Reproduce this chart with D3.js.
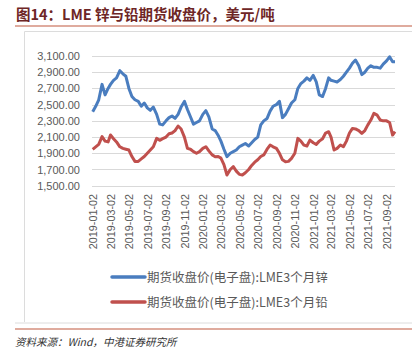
<!DOCTYPE html>
<html><head><meta charset="utf-8">
<script src="https://cdn.jsdelivr.net/npm/d3@7"></script>
<style>body{margin:0;background:#fff}svg{display:block}</style>
</head><body>
<script>
const dates = [
"2019-01-02","2019-01-12","2019-01-22","2019-02-02","2019-02-12","2019-02-22","2019-03-02","2019-03-12","2019-03-22",
"2019-04-02","2019-04-12","2019-04-22","2019-05-02","2019-05-12","2019-05-22","2019-06-02","2019-06-12","2019-06-22",
"2019-07-02","2019-07-12","2019-07-22","2019-08-02","2019-08-12","2019-08-22","2019-09-02","2019-09-12","2019-09-22",
"2019-10-02","2019-10-12","2019-10-22","2019-11-02","2019-11-12","2019-11-22","2019-12-02","2019-12-12","2019-12-22",
"2020-01-02","2020-01-12","2020-01-22","2020-02-02","2020-02-12","2020-02-22","2020-03-02","2020-03-12","2020-03-22",
"2020-04-02","2020-04-12","2020-04-22","2020-05-02","2020-05-12","2020-05-22","2020-06-02","2020-06-12","2020-06-22",
"2020-07-02","2020-07-12","2020-07-22","2020-08-02","2020-08-12","2020-08-22","2020-09-02","2020-09-12","2020-09-22",
"2020-10-02","2020-10-12","2020-10-22","2020-11-02","2020-11-12","2020-11-22","2020-12-02","2020-12-12","2020-12-22",
"2021-01-02","2021-01-12","2021-01-22","2021-02-02","2021-02-12","2021-02-22","2021-03-02","2021-03-12","2021-03-22",
"2021-04-02","2021-04-12","2021-04-22","2021-05-02","2021-05-12","2021-05-22","2021-06-02","2021-06-12","2021-06-22",
"2021-07-02","2021-07-12","2021-07-22","2021-08-02","2021-08-12","2021-08-22","2021-09-02","2021-09-12","2021-09-22","2021-09-30"];
const zinc = [
2413,2480,2560, 2750,2620,2700, 2750,2800,2830,
2919,2880,2850, 2700,2600,2560, 2540,2480,2520,
2460,2430,2470, 2380,2260,2250, 2300,2340,2360,
2330,2380,2470, 2540,2440,2350, 2260,2280,2300,
2380,2426,2350, 2200,2180,2120, 2050,1950,1858,
1900,1920,1940, 1980,2000,2020, 1990,2030,2070,
2100,2250,2300, 2330,2420,2480, 2500,2540,2340,
2380,2450,2520, 2560,2700,2760, 2790,2830,2800,
2860,2780,2620, 2600,2700,2830, 2800,2790,2780,
2810,2850,2900, 2950,3010,3050, 2980,2870,2900,
2950,2980,2960, 2960,2950,3000, 3040,3090,3030,3030];
const lead = [
1949,1980,2010, 2105,2050,2040, 2125,2080,2040,
1980,1960,1950, 1940,1860,1800, 1800,1830,1860,
1900,1940,1980, 2084,2060,2080, 2100,2140,2150,
2180,2236,2200, 2100,1960,1950, 1920,1900,1920,
1960,1981,1930, 1880,1858,1860, 1840,1760,1632,
1700,1735,1680, 1640,1632,1660, 1700,1750,1790,
1820,1860,1880, 1950,2002,1980, 1960,1900,1820,
1796,1800,1837, 1900,2084,2050, 2000,1990,2063,
2030,2010,2050, 2080,2150,2166, 2100,1940,1960,
2002,1980,2050, 2150,2207,2200, 2180,2145,2180,
2250,2310,2392, 2370,2310,2300, 2300,2280,2125,2166];
const yTicks = [1500,1700,1900,2100,2300,2500,2700,2900,3100];
const xTickLabels = ["2019-01-02","2019-03-02","2019-05-02","2019-07-02","2019-09-02","2019-11-02","2020-01-02","2020-03-02","2020-05-02","2020-07-02","2020-09-02","2020-11-02","2021-01-02","2021-03-02","2021-05-02","2021-07-02","2021-09-02"];
const seriesNames = ["期货收盘价(电子盘):LME3个月锌","期货收盘价(电子盘):LME3个月铅"];
const colors = ["#4a7dbf","#c0504d"];
const title = "图14：LME 锌与铅期货收盘价，美元/吨";
const source = "资料来源：Wind，中港证券研究所";

const W=418,H=357;
const svg=d3.select("body").append("svg").attr("width",W).attr("height",H);
const parse=d3.timeParse("%Y-%m-%d");
const dd=dates.map(parse);

// title & frame
svg.append("text").attr("x",16).attr("y",20).attr("font-family","'Noto Sans CJK SC',sans-serif")
  .attr("font-size",14.5).attr("font-weight","bold").attr("fill","#6e2626").text(title);
svg.append("line").attr("x1",15).attr("x2",412).attr("y1",26).attr("y2",26).attr("stroke","#c0583f").attr("stroke-width",1.2);
svg.append("path").attr("d","M24.5,322 V31.5 H412").attr("fill","none").attr("stroke","#dcdcdc").attr("stroke-width",1);
svg.append("line").attr("x1",15).attr("x2",412).attr("y1",323).attr("y2",323).attr("stroke","#dcdcdc");
svg.append("line").attr("x1",15).attr("x2",412).attr("y1",329).attr("y2",329).attr("stroke","#c0583f").attr("stroke-width",1.2);
svg.append("text").attr("x",15).attr("y",346).attr("font-family","'Noto Sans CJK SC',sans-serif")
  .attr("font-size",10.5).attr("font-style","italic").attr("fill","#333").text(source);

const x=d3.scaleTime().domain([parse("2019-01-02"),parse("2021-09-30")]).range([92.7,395]);
const y=d3.scaleLinear().domain([1500,3100]).range([185.7,56]);

// grid
svg.append("g").selectAll("line").data(yTicks).join("line")
  .attr("x1",92).attr("x2",395).attr("y1",d=>Math.round(y(d))+0.5).attr("y2",d=>Math.round(y(d))+0.5)
  .attr("stroke","#d9d9d9").attr("stroke-width",1);

const yAxis=svg.append("g").attr("transform","translate(92,0)")
  .call(d3.axisLeft(y).tickValues(yTicks).tickFormat(d3.format(",.2f")).tickSize(0).tickPadding(12));
yAxis.select(".domain").remove();
yAxis.selectAll("text").attr("font-family","'Liberation Sans',Arial,sans-serif").attr("font-size",11).attr("fill","#595959");

const xAxis=svg.append("g").attr("transform","translate(0,190)")
  .call(d3.axisBottom(x).tickValues(xTickLabels.map(parse)).tickFormat(d3.timeFormat("%Y-%m-%d")).tickSize(0));
xAxis.select(".domain").remove();
xAxis.selectAll("text").attr("font-family","'Liberation Sans',Arial,sans-serif").attr("font-size",10.8).attr("fill","#595959")
  .attr("text-anchor","end").attr("transform","rotate(-90)").attr("dx","-4").attr("dy","0.35em").attr("y",0).attr("x",0);

const line=d3.line().x((d,i)=>x(dd[i])).y(d=>y(d)).curve(d3.curveLinear);
[zinc,lead].forEach((s,k)=>{
  svg.append("path").datum(s).attr("d",line).attr("fill","none").attr("stroke",colors[k])
    .attr("stroke-width",3).attr("stroke-linejoin","round");
});

// legend
const ly=[277,302];
seriesNames.forEach((n,k)=>{
  svg.append("line").attr("x1",112).attr("x2",145).attr("y1",ly[k]).attr("y2",ly[k]).attr("stroke",colors[k]).attr("stroke-width",3.5).attr("stroke-linecap","round");
  svg.append("text").attr("x",147).attr("y",ly[k]+4.5).attr("font-family","'Noto Sans CJK SC',sans-serif")
    .attr("font-size",12.5).attr("fill","#595959").text(n);
});
</script>
</body></html>
